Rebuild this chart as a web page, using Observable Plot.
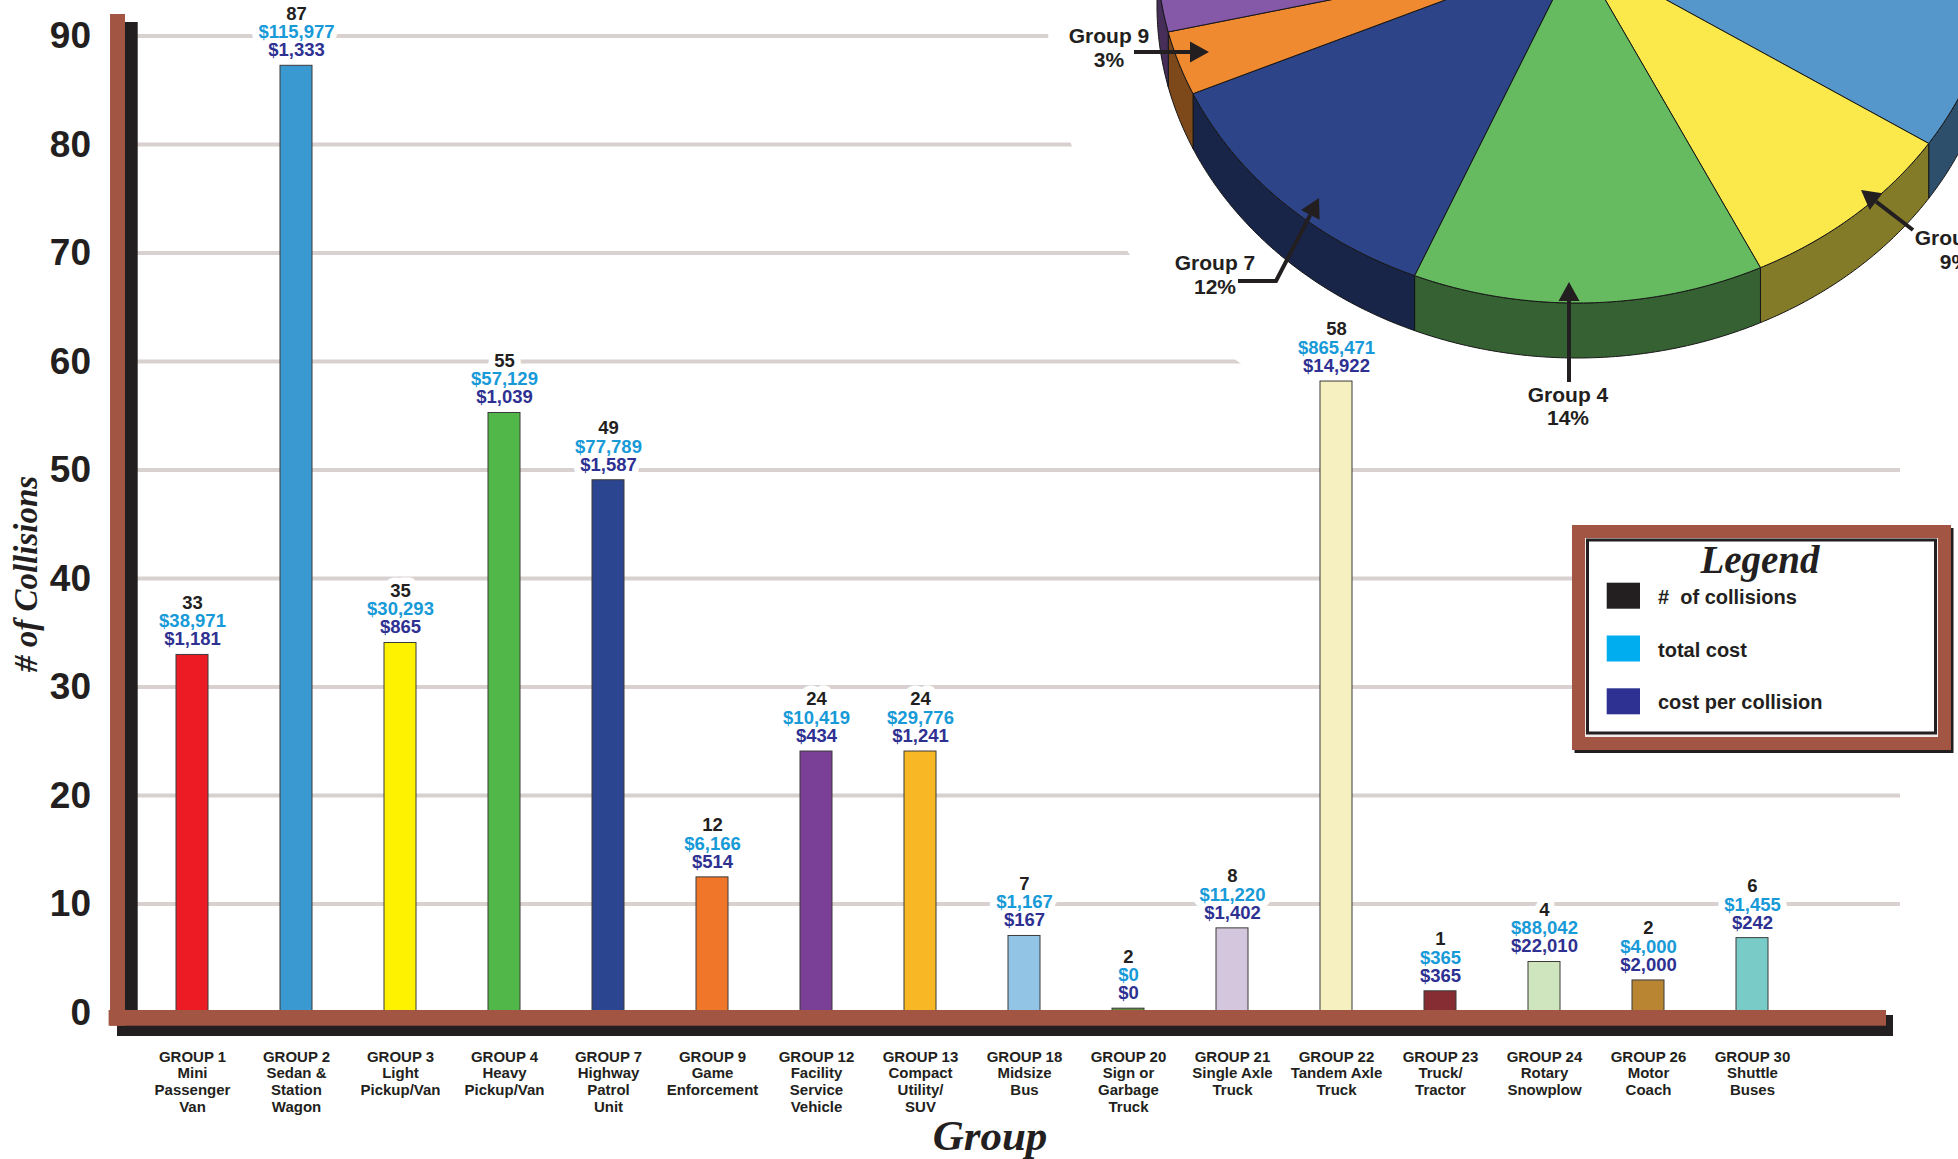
<!DOCTYPE html>
<html>
<head>
<meta charset="utf-8">
<script src="https://cdn.jsdelivr.net/npm/d3@7"></script>
<script src="https://cdn.jsdelivr.net/npm/@observablehq/plot@0.6"></script>
<style>
  html, body { margin: 0; padding: 0; background: #fff; overflow: hidden; }
  svg { display: block; overflow: hidden; }
</style>
</head>
<body>
<div id="chart"></div>
<script>
// ---------------- data ----------------
const groups = ["GROUP 1","GROUP 2","GROUP 3","GROUP 4","GROUP 7","GROUP 9","GROUP 12","GROUP 13",
                "GROUP 18","GROUP 20","GROUP 21","GROUP 22","GROUP 23","GROUP 24","GROUP 26","GROUP 30"];
const descriptions = ["Mini\nPassenger\nVan","Sedan &\nStation\nWagon","Light\nPickup/Van","Heavy\nPickup/Van",
                      "Highway\nPatrol\nUnit","Game\nEnforcement","Facility\nService\nVehicle","Compact\nUtility/\nSUV",
                      "Midsize\nBus","Sign or\nGarbage\nTruck","Single Axle\nTruck","Tandem Axle\nTruck",
                      "Truck/\nTractor","Rotary\nSnowplow","Motor\nCoach","Shuttle\nBuses"];
const collisions = [33, 87, 35, 55, 49, 12, 24, 24, 7, 2, 8, 58, 1, 4, 2, 6];
const totalCost = [38971, 115977, 30293, 57129, 77789, 6166, 10419, 29776, 1167, 0, 11220, 865471, 365, 88042, 4000, 1455];
const costPerCollision = [1181, 1333, 865, 1039, 1587, 514, 434, 1241, 167, 0, 1402, 14922, 365, 22010, 2000, 242];
// bar heights as drawn in the picture
const barHeights = [33.0, 87.3, 34.1, 55.3, 49.1, 12.5, 24.1, 24.1, 7.1, 0.4, 7.8, 58.2, 2.0, 4.7, 3.0, 6.9];
const barColors = ["#ed1c24","#3a99d0","#fff200","#50b748","#2c4590","#f0762a","#7a3f96","#f8b826",
                   "#92c4e5","#5f8a3c","#d4c6dc","#f6efc0","#862d33","#cfe5bd","#b98533","#78cbc6"];
const pieColors = ["#e03a3e","#5596cb","#fbe94c","#66bb61","#2d4488","#f08a31","#8558a8","#f8b826",
                   "#92c4e5","#5f8a3c","#d4c6dc","#f6efc0","#862d33","#cfe5bd","#b98533","#78cbc6"];
const pieNoteGroups = ["Group 9", "Group 7", "Group 4", "Group 3"];
const yTicks = [0, 10, 20, 30, 40, 50, 60, 70, 80, 90];
const legendLabels = ["#  of collisions", "total cost", "cost per collision"];
const legendColors = ["#231f20", "#00aeef", "#2e3192"];

// ---------------- chart ----------------
const W = 1958, H = 1159;
const fmt = d3.format("$,");
const data = groups.map((g, i) => ({
  group: g, desc: descriptions[i], n: collisions[i], h: barHeights[i],
  total: totalCost[i], per: costPerCollision[i], color: barColors[i]
}));
const SANS = "'Liberation Sans', Arial, Helvetica, sans-serif";
const SCRIPT = "'Liberation Serif', 'DejaVu Serif', serif";
const lab = {x: "group", y: "h", fontSize: 18.5, fontWeight: "bold", fontFamily: SANS};
const offs = [-52, -33.5, -15.5];
const texts = [d => String(d.n), d => fmt(d.total), d => fmt(d.per)];
const textColors = ["#231f20", "#179ad7", "#2e3192"];

const chart = Plot.plot({
  width: W, height: H,
  marginLeft: 132.5, marginRight: 146, marginTop: 36, marginBottom: 146.5,
  x: {domain: groups, paddingInner: 0.695, paddingOuter: 0.3475, axis: null},
  y: {domain: [0, 90], axis: null},
  style: {background: "white", fontFamily: SANS},
  marks: [
    ...texts.map((t, k) => Plot.text(data, {...lab, text: t, dy: offs[k], fill: "white", stroke: "white", strokeWidth: 13, strokeLinejoin: "round"})),
    Plot.barY(data, {x: "group", y: "h", fill: d => d.color, stroke: "#3b3b3b", strokeWidth: 1}),
    ...texts.map((t, k) => Plot.text(data, {...lab, text: t, dy: offs[k], fill: textColors[k]})),
    Plot.text(data, {x: "group", text: d => d.group + "\n" + d.desc, frameAnchor: "bottom", lineAnchor: "top",
                     dy: 37, fontSize: 15, fontWeight: "bold", lineHeight: 1.11, fill: "#231f20", fontFamily: SANS}),
    Plot.text(yTicks, {y: d => d, text: d => String(d), frameAnchor: "left", textAnchor: "end", dx: -42,
                       fontSize: 37, fontWeight: "bold", fill: "#231f20", fontFamily: SANS})
  ]
});
document.getElementById("chart").appendChild(chart);

// ---------------- decorations via d3 ----------------
const ys = chart.scale("y");
const Y = v => ys.apply(v);
const svg = d3.select(chart);
const firstText = chart.querySelector('g[aria-label="text"]');
const under = d3.create("svg:g");

// gridlines
under.append("g").selectAll("line").data(yTicks.slice(1)).join("line")
  .attr("x1", 137).attr("x2", 1900).attr("y1", Y).attr("y2", Y)
  .attr("stroke", "#d9d1d0").attr("stroke-width", 4);

// 3D pie of collision shares
const P = {cx: 1577, cy: -49, a: 420, b: 352, depth: 55, offset: -73};
const rad = d => d * Math.PI / 180;
const pt = (deg, dy = 0) => [P.cx + P.a * Math.cos(rad(deg)), P.cy + dy + P.b * Math.sin(rad(deg))];
const line = d3.line();
const pieG = under.append("g");
// halo
pieG.append("ellipse").attr("cx", P.cx).attr("cy", P.cy).attr("rx", P.a).attr("ry", P.b)
  .attr("fill", "white").attr("stroke", "white").attr("stroke-width", 230);
pieG.append("ellipse").attr("cx", P.cx).attr("cy", P.cy + P.depth).attr("rx", P.a).attr("ry", P.b)
  .attr("fill", "white").attr("stroke", "white").attr("stroke-width", 220);
const arcs = d3.pie().sort(null).value(d => d)(collisions);
arcs.forEach(a => {
  a.t0 = a.startAngle / (2 * Math.PI) * 360 + P.offset;
  a.t1 = a.endAngle / (2 * Math.PI) * 360 + P.offset;
});
// sides
arcs.forEach((a, i) => {
  const s = Math.max(a.t0, 0), e = Math.min(a.t1, 180);
  if (e <= s) return;
  const pts = [];
  for (let t = s; t < e; t += 0.5) pts.push(pt(t));
  pts.push(pt(e));
  for (let t = e; t > s; t -= 0.5) pts.push(pt(t, P.depth));
  pts.push(pt(s, P.depth));
  pieG.append("path").attr("d", line(pts) + "Z")
    .attr("fill", d3.color(pieColors[i]).darker(1.8).formatHex())
    .attr("stroke", "#161616").attr("stroke-width", 1);
});
// tops
arcs.forEach((a, i) => {
  const pts = [[P.cx, P.cy]];
  for (let t = a.t0; t < a.t1; t += 0.5) pts.push(pt(t));
  pts.push(pt(a.t1));
  pieG.append("path").attr("d", line(pts) + "Z")
    .attr("fill", pieColors[i]).attr("stroke", "#161616").attr("stroke-width", 1);
});
chart.insertBefore(under.node(), firstText);

// axis frame
const y0 = Y(0);
const frame = svg.append("g");
frame.append("rect").attr("x", 125).attr("y", Y(90) - 14).attr("width", 12.7).attr("height", y0 - Y(90) + 14).attr("fill", "#231f20");
frame.append("rect").attr("x", 117).attr("y", y0 + 2.5).attr("width", 1893 - 117).attr("height", 21).attr("fill", "#231f20");
frame.append("rect").attr("x", 110).attr("y", Y(90) - 22).attr("width", 15).attr("height", y0 + 13.2 - Y(90) + 22).attr("fill", "#a25542");
frame.append("rect").attr("x", 108.6).attr("y", y0 - 2.5).attr("width", 1886 - 108.6).attr("height", 15.7).attr("fill", "#a25542");

// pie annotations
const total = d3.sum(collisions);
const pct = d3.format(".0%");
const notesLayout = [
  {cx: 1109, base: 43.3, arrow: [[1134, 52], [1209, 52]]},
  {cx: 1215, base: 270, arrow: [[1238, 281], [1276, 281], [1319, 198]]},
  {cx: 1568, base: 401.7, arrow: [[1569, 382], [1569, 282]]},
  {cx: 1955, base: 245, arrow: [[1913, 230], [1861, 190]]}
];
const notes = svg.append("g");
pieNoteGroups.forEach((name, k) => {
  const idx = groups.indexOf(name.toUpperCase());
  const L = notesLayout[k];
  const pts = L.arrow;
  const [p1, p2] = [pts[pts.length - 2], pts[pts.length - 1]];
  const ang = Math.atan2(p2[1] - p1[1], p2[0] - p1[0]);
  const hl = 19, hw = 10.5;
  const base = [p2[0] - hl * Math.cos(ang), p2[1] - hl * Math.sin(ang)];
  const shaft = pts.slice(0, -1).concat([base]);
  notes.append("path").attr("d", line(shaft)).attr("fill", "none").attr("stroke", "#231f20").attr("stroke-width", 4);
  const nx = -Math.sin(ang), ny = Math.cos(ang);
  notes.append("path").attr("d", line([p2, [base[0] + nx * hw, base[1] + ny * hw], [base[0] - nx * hw, base[1] - ny * hw]]) + "Z")
    .attr("fill", "#231f20");
  const t = notes.append("text").attr("text-anchor", "middle").attr("font-family", SANS)
    .attr("font-weight", "bold").attr("font-size", 21).attr("fill", "#231f20");
  t.append("tspan").attr("x", L.cx).attr("y", L.base).text(name);
  t.append("tspan").attr("x", L.cx).attr("y", L.base + 23.5).text(pct(collisions[idx] / total));
});

// axis titles
svg.append("text").attr("transform", "translate(37,574) rotate(-90)").attr("text-anchor", "middle")
  .attr("font-family", SCRIPT).attr("font-style", "italic").attr("font-weight", "bold")
  .attr("font-size", 33).attr("fill", "#231f20").text("# of Collisions");
svg.append("text").attr("x", 990).attr("y", 1150).attr("text-anchor", "middle")
  .attr("font-family", SCRIPT).attr("font-style", "italic").attr("font-weight", "bold")
  .attr("font-size", 43).attr("fill", "#231f20").text("Group");

// legend
const lg = svg.append("g").attr("text-anchor", "start");
lg.append("rect").attr("x", 1574.5).attr("y", 528).attr("width", 379).attr("height", 225).attr("fill", "#231f20");
lg.append("rect").attr("x", 1572).attr("y", 525).attr("width", 379).attr("height", 225).attr("fill", "#a25542");
lg.append("rect").attr("x", 1585).attr("y", 538).attr("width", 353).attr("height", 199).attr("fill", "#f4ecea");
lg.append("rect").attr("x", 1587.5).attr("y", 540).attr("width", 348).attr("height", 193)
  .attr("fill", "white").attr("stroke", "#231f20").attr("stroke-width", 3);
lg.append("text").attr("x", 1760).attr("y", 573).attr("text-anchor", "middle")
  .attr("font-family", SCRIPT).attr("font-style", "italic").attr("font-weight", "bold")
  .attr("font-size", 39).attr("fill", "#231f20").text("Legend");
legendLabels.forEach((txt, i) => {
  const yy = 582.7 + i * 52.8;
  lg.append("rect").attr("x", 1606.7).attr("y", yy).attr("width", 33.3).attr("height", 26).attr("fill", legendColors[i]);
  lg.append("text").attr("x", 1658).attr("y", yy + 21).attr("text-anchor", "start").attr("font-family", SANS).attr("font-weight", "bold")
    .attr("font-size", 20).attr("fill", "#231f20").style("white-space", "pre").text(txt);
});
</script>
</body>
</html>
